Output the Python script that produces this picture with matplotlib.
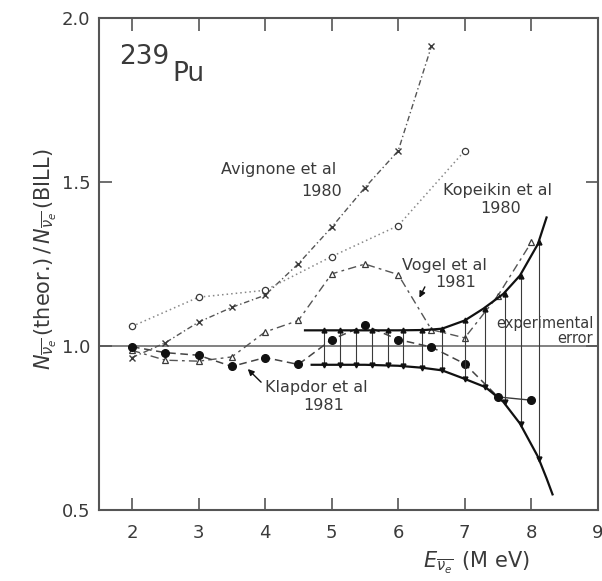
import numpy as np
import matplotlib
matplotlib.use("Agg")
import matplotlib.pyplot as plt

plt.rcParams["font.family"] = ["DejaVu Sans"]
plt.rcParams["mathtext.fontset"] = "dejavusans"

INK = "#3a3a3a"

# Avignone et al 1980 (crosses)
avig_e = [2.0, 2.5, 3.0, 3.5, 4.0, 4.5, 5.0, 5.5, 6.0, 6.5]
avig_r = [0.965, 1.01, 1.073, 1.118, 1.155, 1.251, 1.362, 1.483, 1.595, 1.914]

# Kopeikin et al 1980 (open circles)
kop_e = [2.0, 3.0, 4.0, 5.0, 6.0, 7.0]
kop_r = [1.06, 1.149, 1.17, 1.273, 1.367, 1.595]

# Vogel et al 1981 (open triangles)
vog_e = [2.0, 2.5, 3.0, 3.5, 4.0, 4.5, 5.0, 5.5, 6.0, 6.5, 7.0, 7.5, 8.0]
vog_r = [0.987, 0.957, 0.954, 0.967, 1.043, 1.078, 1.22, 1.25, 1.218, 1.05, 1.025, 1.154, 1.316]

# Klapdor et al 1981 (filled circles)
kla_e = [2.0, 2.5, 3.0, 3.5, 4.0, 4.5, 5.0, 5.5, 6.0, 6.5, 7.0, 7.5, 8.0]
kla_r = [0.998, 0.98, 0.972, 0.938, 0.965, 0.944, 1.02, 1.063, 1.02, 0.997, 0.946, 0.845, 0.835]

# experimental error band
up_e = [4.6, 5.0, 5.5, 6.0, 6.4, 6.66, 7.0, 7.28, 7.58, 7.83, 8.1, 8.23]
up_r = [1.048, 1.048, 1.048, 1.048, 1.049, 1.053, 1.078, 1.114, 1.159, 1.215, 1.311, 1.392]
lo_e = [4.7, 5.0, 5.5, 6.0, 6.36, 6.66, 7.0, 7.31, 7.58, 7.83, 8.1, 8.23, 8.32]
lo_r = [0.943, 0.943, 0.943, 0.94, 0.934, 0.926, 0.90, 0.875, 0.83, 0.764, 0.663, 0.597, 0.548]

bar_e = [4.89, 5.12, 5.37, 5.61, 5.84, 6.08, 6.36, 6.66, 7.0, 7.3, 7.6, 7.84, 8.12]
bar_lo = [0.943, 0.943, 0.943, 0.943, 0.942, 0.94, 0.934, 0.926, 0.90, 0.876, 0.83, 0.764, 0.655]
bar_hi = [1.048, 1.048, 1.048, 1.048, 1.048, 1.048, 1.049, 1.053, 1.078, 1.114, 1.16, 1.215, 1.318]

fig = plt.figure(figsize=(6.02, 5.81), dpi=100)
ax = fig.add_axes([0.164, 0.122, 0.829, 0.847])

ax.axhline(1.0, color="#777777", lw=1.3, zorder=1)

ax.plot(avig_e, avig_r, color="#555555", lw=1.0, ls=(0, (4, 2, 1, 2)),
        marker="x", ms=4, mew=1.0, mec=INK)
ax.plot(kop_e, kop_r, color="#888888", lw=1.1, ls=(0, (1, 2)),
        marker="o", ms=4.5, mfc="white", mec=INK, mew=0.9)
ax.plot(vog_e, vog_r, color="#555555", lw=1.0, ls=(0, (6, 3, 2, 3)),
        marker="^", ms=5, mfc="white", mec=INK, mew=0.9)
ax.plot(kla_e[:-1], kla_r[:-1], color="#444444", lw=1.1, ls=(0, (5, 3)))
ax.plot(kla_e[-2:], kla_r[-2:], color=INK, lw=1.0)
ax.plot(kla_e, kla_r, ls="none", marker="o", ms=5.5, color="#111111")

# error band
ax.plot(up_e, up_r, color="#111111", lw=1.6)
ax.plot(lo_e, lo_r, color="#111111", lw=1.6)
ax.vlines(bar_e, bar_lo, bar_hi, color=INK, lw=0.8)
ax.plot(bar_e, bar_hi, ls="none", marker="^", ms=3.5, color="#111111")
ax.plot(bar_e, bar_lo, ls="none", marker="v", ms=3.5, color="#111111")

# labels
tkw = dict(color=INK, fontsize=11.5)
ax.text(1.81, 1.86, "239", color=INK, fontsize=19)
ax.text(2.6, 1.808, "Pu", color=INK, fontsize=19)
ax.text(3.34, 1.537, "Avignone et al", va="center", **tkw)
ax.text(5.15, 1.47, "1980", va="center", ha="right", **tkw)
ax.text(6.68, 1.473, "Kopeikin et al", va="center", **tkw)
ax.text(7.54, 1.418, "1980", va="center", ha="center", **tkw)
ax.text(6.06, 1.245, "Vogel et al", va="center", **tkw)
ax.text(6.56, 1.193, "1981", va="center", **tkw)
ax.text(4.0, 0.873, "Klapdor et al", va="center", **tkw)
ax.text(4.58, 0.82, "1981", va="center", **tkw)
ax.text(8.93, 1.07, "experimental", va="center", ha="right", color=INK, fontsize=10.5)
ax.text(8.93, 1.022, "error", va="center", ha="right", color=INK, fontsize=10.5)

akw = dict(arrowstyle="-|>", color="#111111", lw=1.0, mutation_scale=9)
ax.annotate("", xy=(6.3, 1.14), xytext=(6.42, 1.188), arrowprops=akw)
ax.annotate("", xy=(3.71, 0.936), xytext=(3.97, 0.884), arrowprops=akw)

ax.set_xlim(1.5, 9)
ax.set_ylim(0.5, 2.0)
ax.set_xticks([2, 3, 4, 5, 6, 7, 8, 9])
ax.set_yticks([0.5, 1.0, 1.5, 2.0])
ax.set_yticklabels(["0.5", "1.0", "1.5", "2.0"])
ax.tick_params(direction="in", length=9, width=1.2, color="#555555",
               labelsize=13, labelcolor=INK, top=True, right=True)
ax.tick_params(axis="x", pad=10)
ax.tick_params(axis="y", pad=6)
for s in ax.spines.values():
    s.set_color("#555555")
    s.set_linewidth(1.5)

ax.set_ylabel(r"$N_{\overline{\nu_e}}\,$(theor.)$\,/\,N_{\overline{\nu_e}}\,$(BILL)",
              fontsize=15, color=INK)
ax.yaxis.set_label_coords(-0.08, 0.51)
ax.set_xlabel(r"$E_{\overline{\nu_e}}\,$ (M eV)", fontsize=15, color=INK)
ax.xaxis.set_label_coords(0.757, -0.08)

fig.savefig("out.png", dpi=100)
